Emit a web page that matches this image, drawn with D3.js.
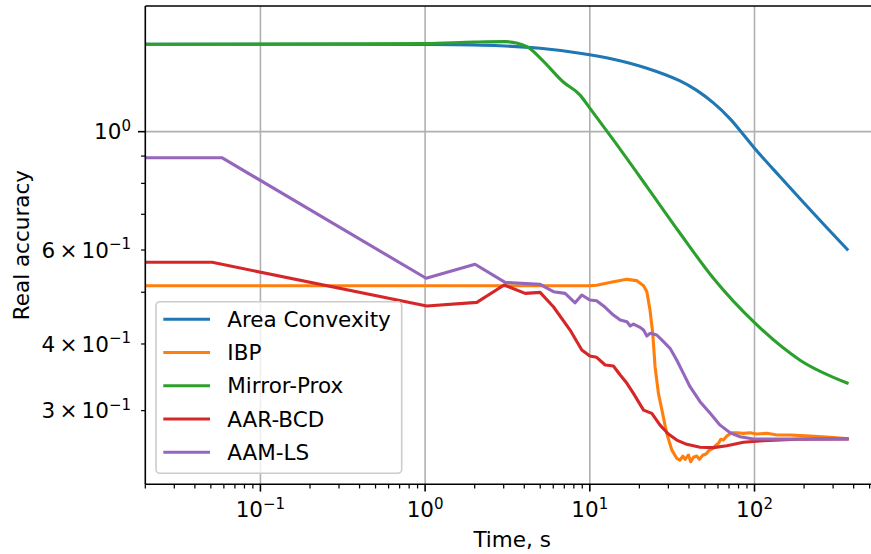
<!DOCTYPE html>
<html>
<head>
<meta charset="utf-8">
<script src="https://cdn.jsdelivr.net/npm/d3@7"></script>
<style>
  html, body { margin: 0; padding: 0; background: #fff; overflow: hidden; }
  svg { display: block; font-family: "DejaVu Sans", sans-serif; }
</style>
</head>
<body>
<svg id="chart" width="871" height="554"></svg>
<script>
// ---- Data (time in seconds, real accuracy) ----
const seriesNames = ["Area Convexity", "IBP", "Mirror-Prox", "AAR-BCD", "AAM-LS"];
const seriesColors = ["#1f77b4", "#ff7f0e", "#2ca02c", "#d62728", "#9467bd"];

const acT = [0.02, 0.1, 1, 2.85, 5, 8.7, 13.9, 22.2, 35.3, 44.6, 56.3, 71.1, 85, 100, 143, 228, 365];
const acV = [1.458, 1.458, 1.457, 1.449, 1.433, 1.403, 1.367, 1.315, 1.245, 1.195, 1.132, 1.057, 0.99, 0.931, 0.823, 0.703, 0.602];

const ibpT = [0.02, 10, 11, 13.9, 16.8, 19.3, 21.2, 22.2, 23.2, 24.1, 24.9, 26.1, 27.4, 29.3, 31.5, 33.7, 35.3, 36.7, 37.9, 39.7, 41.0, 42.6, 44.6, 46.3, 48.5, 50.8, 53.2, 55.8, 58.5, 60.4, 62.4, 64.7, 67.9, 72.8, 78.1, 85.6, 94.0, 103, 119, 137, 165, 218, 288, 365];
const ibpV = [0.5143, 0.5143, 0.5155, 0.5234, 0.5287, 0.5257, 0.5143, 0.501, 0.463, 0.419, 0.3626, 0.3232, 0.3008, 0.272, 0.253, 0.2442, 0.2424, 0.2466, 0.2431, 0.2477, 0.2406, 0.2453, 0.2466, 0.2431, 0.2474, 0.2488, 0.2531, 0.2549, 0.2586, 0.2605, 0.2651, 0.2642, 0.2688, 0.2727, 0.2727, 0.272, 0.2727, 0.2712, 0.272, 0.27, 0.27, 0.2688, 0.2674, 0.2658];

const mpT = [0.02, 1, 2, 3.06, 4.15, 5, 6.9, 8.7, 10, 13.9, 22.2, 35.3, 56.3, 100, 189, 365];
const mpV = [1.458, 1.462, 1.472, 1.475, 1.443, 1.374, 1.239, 1.172, 1.107, 0.965, 0.789, 0.645, 0.531, 0.4385, 0.373, 0.338];

const aarT = [0.02, 0.0509, 1.024, 2.06, 3.02, 4.05, 4.99, 6.01, 7.59, 8.94, 10.0, 11.0, 12.4, 13.9, 15.3, 16.8, 18.4, 21.2, 23.8, 26.7, 30.0, 33.7, 38.8, 46.7, 56.3, 67.9, 85.6, 113, 181, 365];
const aarV = [0.569, 0.569, 0.4712, 0.4787, 0.5159, 0.4977, 0.4998, 0.4697, 0.4248, 0.3897, 0.3798, 0.3776, 0.3653, 0.3637, 0.3498, 0.3375, 0.3232, 0.3007, 0.2965, 0.2818, 0.2712, 0.2642, 0.2594, 0.2561, 0.2557, 0.2579, 0.2617, 0.2635, 0.2651, 0.2655];

const aamT = [0.02, 0.0583, 1.014, 2.01, 3.06, 4.99, 6.01, 7.08, 8.14, 8.94, 10.0, 11.0, 12.4, 13.9, 15.3, 16.8, 17.6, 18.4, 20.2, 21.2, 22.2, 23.2, 25.5, 28.0, 30.7, 33.7, 37.0, 40.6, 46.7, 53.8, 61.8, 71.1, 81.8, 98.5, 143, 365];
const aamV = [0.8938, 0.8938, 0.5311, 0.5642, 0.5219, 0.5173, 0.5012, 0.4977, 0.4778, 0.4941, 0.4835, 0.482, 0.4686, 0.4532, 0.4436, 0.4403, 0.4322, 0.4359, 0.4297, 0.4248, 0.414, 0.4188, 0.4158, 0.404, 0.3926, 0.3733, 0.3524, 0.3326, 0.3118, 0.2965, 0.2818, 0.2727, 0.2681, 0.2655, 0.2653, 0.2655];

const xDomain = [0.02, 570];
const yDomain = [0.2183, 1.72];
const xMajorTicks = [0.1, 1, 10, 100];
const xTickExp = ["\u22121", "0", "1", "2"];
const yMajorTicks = [1];
const yMinorTicks = [0.3, 0.4, 0.5, 0.6, 0.7, 0.8, 0.9];
const yLabelTicks = [1, 0.6, 0.4, 0.3];
const yLabelMant = ["", "6", "4", "3"];
const yLabelExp = ["0", "\u22121", "\u22121", "\u22121"];

// ---- Layout ----
const L = 145.3, R = 879, T = 6, B = 484.3;
const FS = 21.5;

const svg = d3.select("#chart");
const x = d3.scaleLog().domain(xDomain).range([L, R]);
const y = d3.scaleLog().domain(yDomain).range([B, T]);

svg.append("defs").append("clipPath").attr("id", "clip")
  .append("rect").attr("x", L).attr("y", T).attr("width", R - L).attr("height", B - T);

// grid
const grid = svg.append("g");
xMajorTicks.forEach(t => {
  grid.append("line").attr("x1", x(t)).attr("x2", x(t)).attr("y1", T).attr("y2", B)
    .attr("stroke", "#b0b0b0").attr("stroke-width", 1.6);
});
yMajorTicks.forEach(t => {
  grid.append("line").attr("x1", L).attr("x2", R).attr("y1", y(t)).attr("y2", y(t))
    .attr("stroke", "#b0b0b0").attr("stroke-width", 1.6);
});

// lines
const allSeries = [
  { t: acT, v: acV, curve: d3.curveCatmullRom.alpha(0.5) },
  { t: ibpT, v: ibpV, curve: d3.curveLinear },
  { t: mpT, v: mpV, curve: d3.curveMonotoneX },
  { t: aarT, v: aarV, curve: d3.curveLinear },
  { t: aamT, v: aamV, curve: d3.curveLinear }
];
const lineG = svg.append("g").attr("clip-path", "url(#clip)");
allSeries.forEach((s, i) => {
  const pts = s.t.map((t, j) => [t, s.v[j]]);
  const gen = d3.line().x(d => x(d[0])).y(d => y(d[1])).curve(s.curve);
  lineG.append("path").attr("d", gen(pts)).attr("fill", "none")
    .attr("stroke", seriesColors[i]).attr("stroke-width", 3.1)
    .attr("stroke-linejoin", "round").attr("stroke-linecap", "square");
});

// spines
const sp = svg.append("g").attr("stroke", "#000").attr("stroke-width", 1.6);
sp.append("line").attr("x1", L).attr("x2", L).attr("y1", T).attr("y2", B);
sp.append("line").attr("x1", L).attr("x2", R).attr("y1", B).attr("y2", B);
sp.append("line").attr("x1", L).attr("x2", R).attr("y1", T).attr("y2", T);
sp.append("line").attr("x1", R).attr("x2", R).attr("y1", T).attr("y2", B);

// x ticks
const xMinor = [];
for (let e = -2; e <= 2; e++) for (let k = 2; k <= 9; k++) {
  const v = k * Math.pow(10, e);
  if (v >= xDomain[0] * 0.999 && v <= xDomain[1]) xMinor.push(v);
}
const tk = svg.append("g").attr("stroke", "#000");
xMinor.forEach(v => tk.append("line").attr("x1", x(v)).attr("x2", x(v)).attr("y1", B).attr("y2", B + 4.2).attr("stroke-width", 1.25));
xMajorTicks.forEach(v => tk.append("line").attr("x1", x(v)).attr("x2", x(v)).attr("y1", B).attr("y2", B + 7.3).attr("stroke-width", 1.6));
yMinorTicks.forEach(v => tk.append("line").attr("x1", L).attr("x2", L - 4.2).attr("y1", y(v)).attr("y2", y(v)).attr("stroke-width", 1.25));
yMajorTicks.forEach(v => tk.append("line").attr("x1", L).attr("x2", L - 7.3).attr("y1", y(v)).attr("y2", y(v)).attr("stroke-width", 1.6));

// x tick labels
xMajorTicks.forEach((v, i) => {
  const t = svg.append("text").attr("x", x(v)).attr("y", 517.3).attr("text-anchor", "middle")
    .attr("font-size", FS).attr("fill", "#000");
  t.append("tspan").text("10");
  t.append("tspan").attr("dy", -8.5).attr("font-size", 15).text(xTickExp[i]);
});

// y tick labels
yLabelTicks.forEach((v, i) => {
  const t = svg.append("text").attr("x", 131).attr("y", y(v) + 7.6).attr("text-anchor", "end")
    .attr("font-size", FS).attr("fill", "#000");
  if (yLabelMant[i]) {
    t.append("tspan").text(yLabelMant[i]);
    t.append("tspan").attr("dx", 4.5).text("\u00d7");
    t.append("tspan").attr("dx", 3.9).text("10");
  } else {
    t.append("tspan").text("10");
  }
  t.append("tspan").attr("dy", -8.5).attr("font-size", 15).text(yLabelExp[i]);
});

// axis labels
svg.append("text").attr("x", (L + R) / 2).attr("y", 547).attr("text-anchor", "middle")
  .attr("font-size", FS).attr("fill", "#000").text("Time, s");
svg.append("text").attr("transform", `translate(28.5,${(T + B) / 2}) rotate(-90)`)
  .attr("text-anchor", "middle").attr("font-size", FS).attr("fill", "#000").text("Real accuracy");

// legend
const lg = svg.append("g");
lg.append("rect").attr("x", 156).attr("y", 301.7).attr("width", 245.7).attr("height", 171.6)
  .attr("rx", 4).attr("fill", "#fff").attr("fill-opacity", 0.8)
  .attr("stroke", "#cccccc").attr("stroke-width", 1.6);
seriesNames.forEach((n, i) => {
  const ry = 319.3 + i * 33.25;
  lg.append("line").attr("x1", 163.3).attr("x2", 210).attr("y1", ry).attr("y2", ry)
    .attr("stroke", seriesColors[i]).attr("stroke-width", 3.1);
  lg.append("text").attr("x", 227.3).attr("y", ry + 7.5).attr("font-size", FS).attr("fill", "#000").text(n);
});
</script>
</body>
</html>
